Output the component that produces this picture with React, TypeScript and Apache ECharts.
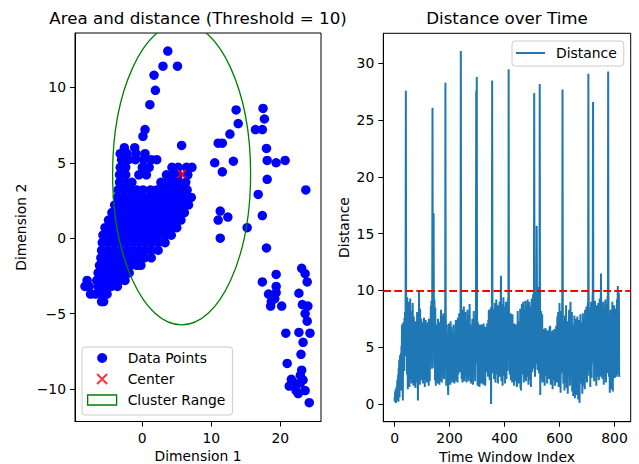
import React, { useEffect, useRef } from 'react';
import * as echarts from 'echarts';

const leftTitle = 'Area and distance (Threshold = 10)';
const rightTitle = 'Distance over Time';
const threshold = 10;
const center: [number, number] = [5.7, 4.25];
const clusterRadius = 10;

const dimXTicks = [0, 10, 20];
const dimYTicks = [-10, -5, 0, 5, 10];
const timeTicks = [0, 200, 400, 600, 800];
const distTicks = [0, 5, 10, 15, 20, 25, 30];

// dense cluster: [y, list of x]
const clusterRows: [number, number[]][] = [
  [-4.2, [-5.9, -5.6]],
  [-3.7, [-7.5, -6.8, -5.9, -5.1]],
  [-3.2, [-8.3, -7.7, -6.4, -5.5, -4.5, -3.6]],
  [-2.8, [-8.0, -6.6, -5.8, -4.9, -4.0, -3.2, -2.5]],
  [-2.3, [-6.4, -5.5, -4.6, -3.7, -2.8, -1.9]],
  [-1.8, [-6.2, -5.3, -4.4, -3.5, -2.6, -1.7, -0.8, -0.2]],
  [-1.3, [-6.0, -5.1, -4.2, -3.3, -2.4, -1.5, -0.6, 0.3, 1.3]],
  [-0.8, [-5.9, -5.0, -4.1, -3.2, -2.3, -1.4, -0.5, 0.4, 1.3, 2.3]],
  [-0.3, [-5.8, -4.9, -4.0, -3.1, -2.2, -1.3, -0.4, 0.5, 1.4, 2.3, 3.3]],
  [0.2, [-5.7, -4.8, -3.9, -3.0, -2.1, -1.2, -0.3, 0.6, 1.5, 2.4, 3.3, 4.2]],
  [0.7, [-5.4, -4.5, -3.6, -2.7, -1.8, -0.9, 0.0, 0.9, 1.8, 2.7, 3.6, 4.5, 5.0]],
  [1.2, [-4.9, -4.0, -3.1, -2.2, -1.3, -0.4, 0.5, 1.4, 2.3, 3.2, 4.1, 5.0, 5.6]],
  [1.7, [-4.4, -3.5, -2.6, -1.7, -0.8, 0.1, 1.0, 1.9, 2.8, 3.7, 4.6, 5.5, 6.1]],
  [2.2, [-4.0, -3.1, -2.2, -1.3, -0.4, 0.5, 1.4, 2.3, 3.2, 4.1, 5.0, 6.0, 6.7]],
  [2.7, [-3.6, -2.7, -1.8, -0.9, 0.0, 0.9, 1.8, 2.7, 3.6, 4.5, 5.4, 6.4, 7.1]],
  [3.2, [-3.5, -2.6, -1.7, -0.8, 0.1, 1.2, 2.1, 3.0, 3.9, 4.8, 5.7, 6.5]],
  [3.7, [-3.3, -2.4, -1.5, 2.7, 3.6, 4.5, 5.4, 6.3]],
  [4.2, [-3.3, -2.4, -0.5, 0.6, 3.5, 4.4, 5.2, 6.6]],
  [4.7, [-3.2, -2.4, 0.0, 1.0, 4.3, 5.2, 6.4, 7.2]],
  [5.2, [-3.0, -2.0, -1.0, 0.2, 1.3, 2.1]],
  [5.6, [-3.2, -2.2, -0.9, 0.4]],
  [6.0, [-2.6, -1.1]],
];

const outlierPoints: [number, number][] = [
  [3.7, 12.4], [3.0, 11.4], [5.1, 11.4], [1.7, 10.8], [1.9, 9.8], [1.1, 8.85],
  [0.1, 6.75], [0.4, 7.2], [5.7, 6.15],
  [13.6, 8.5], [13.9, 7.6], [12.7, 6.9], [11.0, 6.3], [11.6, 6.3], [10.5, 5.0],
  [13.2, 5.1], [11.6, 4.4], [11.3, 1.8], [11.0, 1.2], [12.4, 1.4], [11.3, 0.0], [15.2, 0.7],
  [17.5, 8.6], [17.7, 7.9], [16.4, 7.2], [17.4, 7.2], [18.0, 5.95], [18.1, 5.15],
  [19.4, 5.0], [20.7, 5.15], [18.1, 3.9], [16.8, 2.9], [17.4, 1.5], [18.0, -0.65],
  [17.4, -2.9], [19.4, -2.4], [18.3, -3.7], [19.4, -3.2], [19.4, -3.6], [18.7, -4.2],
  [18.6, -4.5], [20.2, -4.5], [19.2, -4.0],
  [23.7, 3.2], [23.1, -2.0], [23.6, -2.35], [23.9, -2.9], [22.7, -3.65], [23.2, -4.4],
  [24.0, -4.5], [23.6, -5.0], [23.9, -5.5], [20.8, -6.3], [22.7, -6.25], [24.3, -6.3],
  [23.3, -6.9], [23.0, -7.7], [21.0, -8.3], [23.1, -8.75], [22.9, -9.1], [21.6, -9.35],
  [21.3, -9.8], [22.3, -10.1], [23.6, -10.1], [24.2, -10.9], [22.0, -9.6], [22.9, -9.6],
  [22.6, -10.3], [23.3, -9.4],
];

const distanceA: number[] = [
  0.6, 0.2, 1.1, 0.4, 1.3, 0.1, 0.8, 1.5, 0.3, 1.2, 2.1, 0.5, 1.8, 2.6, 0.2, 3.2, 1.4, 3.9, 0.6, 2.8,
  4.3, 1.9, 3.6, 4.5, 1.2, 5.1, 3.3, 7.0, 2.4, 6.2, 0.3, 4.8, 7.2, 3.5, 6.8, 2.9, 7.6, 5.3, 8.1, 4.2,
  7.9, 27.6, 9.8, 5.2, 8.7, 2.6, 9.4, 6.1, 1.3, 8.3, 4.7, 9.0, 3.1, 7.4, 1.5, 8.8, 5.6, 9.3, 2.2, 6.7,
  4.1, 8.2, 1.8, 7.1, 5.4, 2.5, 8.9, 3.8, 6.5, 1.6, 7.7, 4.4, 2.9, 6.9, 3.2, 5.8, 1.4, 7.3, 4.9, 2.7,
  6.2, 3.5, 8.1, 1.9, 5.5, 0.3, 4.6, 7.8, 2.3, 9.9, 4.0, 6.6, 1.7, 8.4, 3.3, 5.9, 2.1, 7.5, 4.8, 2.6,
  7.2, 3.9, 5.1, 1.8, 6.8, 4.3, 2.4, 7.6, 3.0, 5.7, 1.5, 6.3, 3.7, 7.4, 2.2, 5.4, 4.1, 7.1, 1.9, 6.0,
  3.4, 7.2, 2.7, 5.2, 1.6, 7.5, 4.5, 6.4, 2.0, 7.3, 3.8, 5.9, 8.6, 4.2, 9.1, 6.2, 3.1, 8.8, 26.1, 9.4,
  5.6, 9.6, 16.8, 7.4, 3.2, 9.2, 6.0, 2.1, 8.5, 4.6, 1.6, 7.0, 3.7, 5.8, 2.4, 6.9, 1.8, 4.9, 7.5, 3.0,
  6.1, 2.3, 5.3, 1.7, 7.2, 3.6, 4.8, 2.0, 6.6, 8.3, 3.4, 5.5, 1.9, 7.8, 4.0, 2.6, 6.4, 3.3, 8.0, 5.0,
  2.2, 6.7, 4.4, 7.9, 3.1, 28.3, 8.4, 5.7, 1.6, 7.0, 3.9, 2.5, 6.2, 4.6, 1.8, 0.8, 3.0, 7.1, 2.4, 4.8,
];
const distanceB: number[] = [
  6.0, 2.9, 5.1, 1.7, 7.3, 3.5, 4.2, 6.8, 2.1, 5.6, 3.8, 1.9, 6.4, 4.5, 2.7, 7.0, 3.2, 5.4, 1.8, 6.1,
  3.6, 5.0, 2.3, 7.4, 4.1, 2.0, 6.3, 3.4, 5.7, 1.9, 7.6, 4.8, 2.6, 6.9, 3.3, 8.0, 5.2, 2.8, 7.2, 4.4,
  8.5, 31.1, 9.0, 5.9, 2.2, 8.3, 4.7, 1.9, 7.1, 3.6, 5.8, 2.4, 8.6, 4.9, 2.0, 6.7, 3.9, 8.1, 5.3, 2.5,
  7.4, 4.2, 1.9, 6.5, 3.3, 8.3, 5.0, 2.3, 7.8, 4.6, 2.0, 6.2, 3.7, 8.8, 5.5, 2.6, 7.0, 4.0, 1.8, 6.8,
  3.5, 5.9, 2.4, 7.5, 4.3, 1.7, 6.6, 3.1, 8.2, 5.2, 2.7, 7.1, 4.8, 2.0, 6.4, 3.6, 8.6, 27.6, 7.9, 28.8,
  8.3, 5.4, 1.6, 7.2, 3.8, 5.9, 2.3, 6.8, 4.1, 1.5, 7.0, 3.4, 5.6, 2.1, 6.3, 4.7, 1.8, 7.0, 3.2, 5.3,
  2.5, 6.9, 4.3, 1.7, 7.1, 3.7, 5.8, 2.2, 6.5, 4.0, 1.6, 6.8, 3.0, 5.5, 2.8, 6.2, 4.6, 7.1, 3.3, 6.0,
  2.4, 7.4, 4.9, 8.3, 3.6, 6.7, 2.1, 7.9, 5.2, 3.0, 8.5, 0.0, 6.3, 4.4, 8.8, 28.5, 9.1, 5.8, 2.7, 7.6,
  4.5, 8.4, 2.2, 6.9, 3.8, 8.9, 5.1, 1.9, 7.4, 4.0, 9.2, 6.2, 2.6, 8.0, 3.5, 6.6, 1.8, 8.7, 5.3, 3.1,
  7.7, 4.6, 9.0, 2.4, 6.8, 3.9, 8.2, 11.3, 5.7, 2.0, 7.3, 4.2, 8.8, 1.6, 6.1, 3.4, 9.4, 5.0, 2.5, 7.9,
];
const distanceC: number[] = [
  4.8, 8.6, 1.8, 6.4, 3.7, 9.0, 5.5, 2.2, 7.8, 4.3, 8.9, 2.9, 6.7, 9.3, 5.1, 29.5, 8.4, 4.6, 7.2, 2.6,
  6.1, 3.9, 8.0, 2.1, 5.7, 7.4, 3.2, 6.5, 1.9, 7.9, 4.4, 2.7, 6.8, 3.6, 5.2, 1.6, 7.1, 4.0, 2.3, 6.0,
  3.3, 5.6, 2.0, 7.0, 4.7, 1.5, 6.3, 3.8, 8.2, 2.5, 5.4, 1.8, 7.3, 4.1, 2.9, 6.6, 3.5, 8.4, 1.4, 5.9,
  1.2, 6.7, 3.9, 8.8, 2.6, 5.3, 7.6, 3.0, 9.0, 4.5, 1.9, 7.1, 3.6, 8.3, 2.3, 5.8, 9.1, 4.2, 2.0, 6.9,
  3.7, 8.7, 5.0, 2.4, 9.2, 4.3, 6.8, 1.7, 7.9, 3.2, 9.0, 5.5, 2.1, 6.4, 8.6, 3.8, 1.5, 7.2, 4.7, 9.3,
  6.0, 2.8, 8.1, 4.4, 9.7, 3.1, 6.9, 9.5, 27.4, 8.8, 5.3, 2.4, 7.7, 4.6, 9.9, 3.5, 6.2, 15.7, 9.4, 5.8,
  3.0, 8.5, 4.9, 10.3, 6.6, 2.7, 9.1, 5.4, 28.2, 9.6, 0.8, 7.4, 3.9, 8.2, 2.3, 6.3, 4.5, 7.9, 1.9, 5.6,
  6.3, 3.4, 6.1, 2.0, 6.6, 4.8, 1.6, 5.9, 3.7, 6.7, 2.5, 5.2, 6.1, 3.0, 5.4, 1.8, 6.5, 4.3, 2.6, 6.3,
  4.0, 6.2, 2.2, 5.5, 6.8, 3.3, 6.9, 5.4, 1.7, 6.0, 3.6, 6.4, 2.4, 5.8, 4.7, 1.3, 6.5, 3.9, 5.4, 2.1,
  6.3, 3.2, 6.6, 4.5, 1.6, 6.2, 2.9, 5.7, 6.9, 3.5, 6.3, 1.9, 7.7, 4.2, 2.6, 8.1, 5.0, 1.5, 6.6, 3.8,
];
const distanceD: number[] = [
  8.9, 4.6, 2.2, 7.1, 1.0, 5.8, 3.3, 8.2, 2.7, 6.0, 9.0, 27.7, 8.4, 5.2, 1.8, 7.4, 3.6, 6.5, 1.2, 5.0,
  7.8, 3.1, 6.2, 2.0, 8.7, 4.4, 1.4, 6.8, 3.7, 5.5, 0.9, 7.3, 4.0, 2.5, 6.1, 8.3, 3.2, 5.7, 1.6, 7.6,
  9.0, 4.7, 2.3, 6.4, 3.4, 8.1, 1.1, 5.9, 3.0, 7.0, 0.7, 4.8, 6.6, 2.1, 7.8, 3.9, 0.5, 6.0, 4.3, 7.5,
  2.0, 5.3, 0.8, 6.9, 3.5, 7.7, 1.5, 4.6, 0.4, 6.2, 2.8, 7.4, 1.2, 0.1, 5.6, 3.0, 7.9, 1.8, 5.0, 3.6,
  7.2, 2.4, 6.0, 0.9, 4.9, 8.0, 2.7, 6.5, 1.6, 7.6, 3.8, 5.4, 1.3, 8.3, 4.1, 2.2, 6.8, 3.3, 8.6, 5.5,
  1.9, 7.9, 4.6, 8.9, 3.0, 29.1, 9.6, 6.2, 2.5, 7.3, 4.0, 8.5, 1.5, 6.6, 3.4, 9.0, 5.1, 2.3, 7.7, 4.8,
  8.8, 9.8, 26.6, 8.2, 3.6, 6.9, 2.0, 7.5, 4.3, 9.1, 2.6, 5.8, 8.0, 3.9, 1.6, 6.4, 8.7, 4.5, 2.4, 7.1,
  3.5, 8.9, 5.6, 2.1, 7.8, 4.2, 9.3, 3.0, 6.5, 2.4, 8.4, 11.5, 6.0, 3.3, 8.1, 4.8, 2.2, 7.2, 3.8, 9.0,
  5.2, 1.7, 7.4, 3.6, 8.6, 2.5, 6.1, 9.2, 4.0, 1.9, 7.0, 3.2, 8.8, 5.5, 2.7, 9.5, 6.3, 29.3, 9.7, 4.9,
  2.4, 7.6, 4.1, 1.0, 6.7, 3.3, 8.3, 2.0, 5.8, 1.3, 7.3, 3.7, 9.0, 4.5, 1.1, 6.2, 2.8, 7.9, 3.5, 8.7,
  4.2, 2.3, 7.1, 3.0, 8.4, 2.5, 6.0, 7.4, 2.4, 9.2, 3.6, 7.0, 10.4, 2.6, 7.6, 3.1, 9.8, 2.4, 2.5,
];

const FONT = 'DejaVu Sans';
const minus = (v: number | string) => String(v).replace('-', '\u2212');
const xPath = 'path://M0,0L10,10M10,0L0,10';
const linePath = 'path://M0,0L29,0L29,2L0,2Z';

function axisBase(ticks: number[]) {
  return {
    axisLine: { show: true, onZero: false, lineStyle: { color: '#000', width: 1 } },
    axisTick: { show: true, length: 5, customValues: ticks, lineStyle: { color: '#000', width: 1 } },
    axisLabel: {
      color: '#000', fontSize: 13.9, fontFamily: FONT, margin: 9,
      customValues: ticks, formatter: minus,
    },
    splitLine: { show: false },
    nameLocation: 'middle' as const,
    nameTextStyle: { color: '#000', fontSize: 13.9, fontFamily: FONT },
  };
}

export default function App() {
  const ref = useRef<HTMLDivElement>(null);
  useEffect(() => {
    if (!ref.current) return;
    const chart = echarts.init(ref.current, null, { renderer: 'svg', width: 639, height: 464 });
    const clusterPoints: [number, number][] = [];
    clusterRows.forEach(([y, xs]) => xs.forEach((x) => clusterPoints.push([x, y])));
    const points = clusterPoints.concat(outlierPoints);
    const distance = distanceA.concat(distanceB, distanceC, distanceD);

    const legendBase = {
      orient: 'vertical', itemWidth: 29, itemHeight: 10, itemGap: 5, selectedMode: false,
      backgroundColor: 'rgba(255,255,255,0.8)', borderColor: '#cccccc', borderWidth: 1, borderRadius: 3,
      textStyle: { fontSize: 13.9, fontFamily: FONT, color: '#000', lineHeight: 16, padding: [0, 0, 0, 6] },
    };

    const option: any = {
      animation: false,
      backgroundColor: '#fff',
      title: [
        { text: leftTitle, left: 198, top: 9, padding: 0, textAlign: 'center',
          textStyle: { fontSize: 16.7, fontWeight: 'normal', color: '#000', fontFamily: FONT } },
        { text: rightTitle, left: 507, top: 9, padding: 0, textAlign: 'center',
          textStyle: { fontSize: 16.7, fontWeight: 'normal', color: '#000', fontFamily: FONT } },
      ],
      grid: [
        { left: 75, top: 33, width: 246, height: 388.5, show: true, borderColor: '#000', borderWidth: 1,
          backgroundColor: 'transparent', containLabel: false, outerBoundsMode: 'none' },
        { left: 383.3, top: 33.3, width: 247.4, height: 388.4, show: true, borderColor: '#000', borderWidth: 1,
          backgroundColor: 'transparent', containLabel: false, outerBoundsMode: 'none' },
      ],
      xAxis: [
        { ...axisBase(dimXTicks), type: 'value', gridIndex: 0, min: -9.75, max: 25.9,
          name: 'Dimension 1', nameGap: 26 },
        { ...axisBase(timeTicks), type: 'value', gridIndex: 1, min: -41, max: 859,
          name: 'Time Window Index', nameGap: 26 },
      ],
      yAxis: [
        { ...axisBase(dimYTicks), type: 'value', gridIndex: 0, min: -12.15, max: 13.6,
          name: 'Dimension 2', nameGap: 47 },
        { ...axisBase(distTicks), type: 'value', gridIndex: 1, min: -1.56, max: 32.66,
          name: 'Distance', nameGap: 32 },
      ],
      legend: [
        {
          ...legendBase, left: 82, top: 347, padding: [3, 7, 7, 5],
          data: [
            { name: 'Data Points', icon: 'circle', itemStyle: { color: '#0000ff' } },
            { name: 'Center', icon: xPath, itemStyle: { color: '#ff0000', borderColor: '#ff0000', borderWidth: 2 } },
            { name: 'Cluster Range', icon: 'rect',
              itemStyle: { color: 'rgba(255,255,255,0)', borderColor: '#008000', borderWidth: 1.3 } },
          ],
        },
        {
          ...legendBase, left: 512, top: 41, padding: [4, 7, 5, 4],
          data: [{ name: 'Distance', icon: linePath, itemStyle: { color: '#1f77b4', borderWidth: 0 } }],
        },
      ],
      series: [
        {
          name: 'Data Points', type: 'scatter', xAxisIndex: 0, yAxisIndex: 0,
          data: points, symbol: 'circle', symbolSize: 9.5,
          itemStyle: { color: '#0000ff', opacity: 1 }, z: 2,
        },
        {
          name: 'Center', type: 'scatter', xAxisIndex: 0, yAxisIndex: 0,
          data: [center], symbol: xPath, symbolSize: 8.5,
          itemStyle: { color: '#ff0000', borderColor: '#ff0000', borderWidth: 2 }, z: 3,
        },
        {
          name: 'Cluster Range', type: 'custom', xAxisIndex: 0, yAxisIndex: 0, clip: true, z: 4,
          data: [[center[0], center[1], clusterRadius]],
          itemStyle: { color: '#008000' },
          renderItem: (params: any, api: any) => {
            const c = api.coord([api.value(0), api.value(1)]);
            const r = api.value(2);
            const s = api.size([r, r], [api.value(0), api.value(1)]);
            return {
              type: 'ellipse',
              shape: { cx: c[0], cy: c[1], rx: s[0], ry: s[1] },
              style: { fill: 'none', stroke: '#008000', lineWidth: 1.3 },
            };
          },
        },
        {
          name: 'Distance', type: 'line', xAxisIndex: 1, yAxisIndex: 1,
          data: distance.map((v, i) => [i, v]), symbol: 'none', showSymbol: false,
          lineStyle: { color: '#1f77b4', width: 2 }, itemStyle: { color: '#1f77b4' },
          markLine: {
            silent: true, symbol: ['none', 'none'], label: { show: false },
            lineStyle: { color: '#ff0000', type: [7.7, 3.3], width: 2 },
            data: [{ yAxis: threshold }],
          },
        },
      ],
    };
    chart.setOption(option);
    return () => chart.dispose();
  }, []);
  return <div ref={ref} style={{ position: 'fixed', left: 0, top: 0, width: 639, height: 464 }} />;
}
